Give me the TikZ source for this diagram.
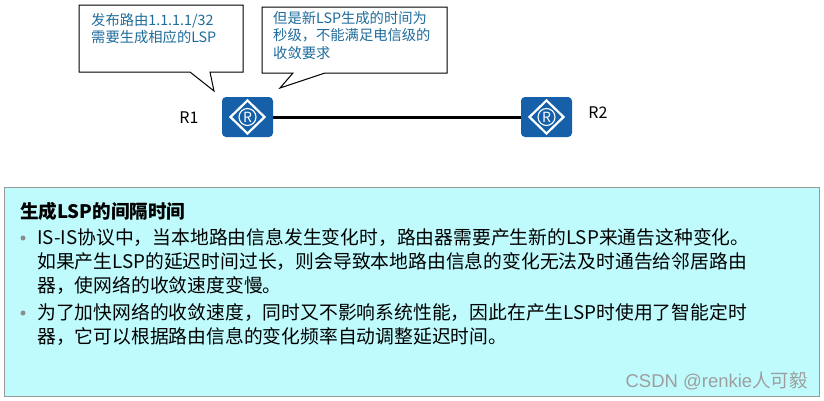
\documentclass[tikz,border=0pt]{standalone}
\usepackage{fontspec}
\setmainfont{Noto Sans CJK SC}
\newfontfamily\markfont{Liberation Sans}
\usetikzlibrary{positioning,shapes.geometric}
\definecolor{panelbg}{HTML}{BFFBFD}
\definecolor{rtrblue}{HTML}{1560A8}
\definecolor{tipblue}{HTML}{1F6C9C}
\tikzset{tipbox/.style={draw=black, fill=white, line width=1pt},
  tiptxt/.style={anchor=north west, inner sep=0pt, align=left, text=tipblue, font=\fontsize{14.3}{17.5}\selectfont},
  rtr/.style={fill=rtrblue, rounded corners=4pt, minimum width=51pt, minimum height=40pt, inner sep=0pt},
  rtrmark/.style={draw=white, line width=2.2pt, diamond, minimum width=35pt, minimum height=34pt, inner sep=0pt},
  rtrring/.style={draw=white, line width=1.1pt, circle, minimum size=17pt, inner sep=0pt, text=white, font=\fontsize{14}{14}\selectfont},
  rtrname/.style={inner sep=0pt, font=\fontsize{16}{16}\selectfont},
  bodytxt/.style={anchor=base west, inner sep=0pt, font=\fontsize{18.8}{24}\selectfont},
  bulletdot/.style={circle, fill=black!45, minimum size=5pt, inner sep=0pt}}

\begin{document}
\begin{tikzpicture}[x=1pt, y=-1pt]
  \useasboundingbox (0,0) rectangle (824,400);
  % info panel
  \node[draw=black!40, line width=1pt, fill=panelbg, minimum width=815pt, minimum height=209pt, inner sep=0pt, anchor=north west] (panel) at (4,187) {};
  % callouts
  \draw[tipbox] (79,5) -- (243,5) -- (243,72) -- (210,72) -- (214,91) -- (190,72) -- (79,72) -- cycle;
  \node[tiptxt] (tipa) at (91,13) {发布路由1.1.1.1/32\\需要生成相应的LSP};
  \draw[tipbox] (262,7) -- (447,7) -- (447,73) -- (325,73) -- (280,88) -- (293,73) -- (262,73) -- cycle;
  \node[tiptxt] (tipb) at (273,11) {但是新LSP生成的时间为\\秒级，不能满足电信级的\\收敛要求};
  % routers
  \foreach \rn/\xx in {r1/247.5, r2/546.5}{
    \node[rtr] (\rn) at (\xx,117) {};
    \node[rtrmark] (\rn m) at (\rn) {};
    \node[rtrring] (\rn c) at (\rn) {R};
  }
  \draw[line width=3pt] (r1.east) -- (r2.west);
  \node[rtrname] (r1txt) at (189,118) {R1};
  \node[rtrname] (r2txt) at (598,113) {R2};
  % panel text
  \node[anchor=base west, inner sep=0pt, font=\fontsize{18.6}{24}\selectfont\bfseries] (head) at (20,218) {生成LSP的间隔时间};
  \node[bulletdot] (dota) at (23,238) {};
  \node[bulletdot] (dotb) at (23,313) {};
  \foreach \ln/\yy/\txt in {a/244/IS-IS协议中，当本地路由信息发生变化时，路由器需要产生新的LSP来通告这种变化。,
      b/268/如果产生LSP的延迟时间过长，则会导致本地路由信息的变化无法及时通告给邻居路由,
      c/292/器，使网络的收敛速度变慢。,
      d/319/为了加快网络的收敛速度，同时又不影响系统性能，因此在产生LSP时使用了智能定时,
      e/343/器，它可以根据路由信息的变化频率自动调整延迟时间。}{
    \node[bodytxt] (line\ln) at (37,\yy) {\txt};
  }
  \node[anchor=base east, inner sep=0pt, text=black!38, font=\markfont\fontsize{18.5}{19}\selectfont] (mark) at (808,387) {CSDN @renkie{\rmfamily 人可毅}};
\end{tikzpicture}
\end{document}
